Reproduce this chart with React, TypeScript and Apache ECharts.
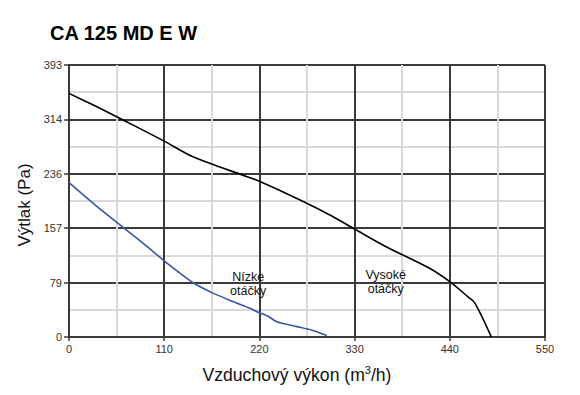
import React, { useEffect, useRef } from "react";
import * as echarts from "echarts";

const titleText = "CA 125 MD E W";
const xTicks = [0, 110, 220, 330, 440, 550];
const yMax = 393;
const yInterval = 78.6;

const highSpeed: [number, number][] = [
  [0, 352], [30, 334], [62, 314], [110, 283], [144, 260], [205, 232], [220, 225],
  [267, 198], [302, 176], [330, 156], [367, 130], [417, 99], [440, 80],
  [461, 58], [469, 49], [488, 0],
];

const lowSpeed: [number, number][] = [
  [0, 223], [30, 191], [65, 156], [90, 131], [111, 109], [144, 78], [167, 63],
  [190, 51], [209, 41.5], [220, 35], [230, 30], [240, 22], [263, 15],
  [280, 10], [298, 2],
];

const lowLabel = { text: "Nízke\notáčky", coord: [207, 77] };
const highLabel = { text: "Vysoké\notáčky", coord: [366, 79] };

export default function App() {
  const ref = useRef<HTMLDivElement>(null);
  useEffect(() => {
    if (!ref.current) return;
    const chart = echarts.init(ref.current, undefined, { renderer: "svg" });
    const font = "Liberation Sans, Arial, sans-serif";
    const dark = "#3a3a3a";
    const labelMark = (l: { text: string; coord: number[] }) => ({
      symbol: "circle",
      symbolSize: 0,
      silent: true,
      label: {
        show: true,
        position: "inside",
        formatter: l.text,
        fontFamily: font,
        fontSize: 12.5,
        lineHeight: 14,
        color: "#111",
        align: "center",
      },
      data: [{ coord: l.coord }],
    });
    chart.setOption({
      animation: false,
      backgroundColor: "#fff",
      title: {
        text: titleText,
        left: 45,
        top: 18,
        textStyle: { fontFamily: font, fontWeight: "bold", fontSize: 20, color: "#000" },
      },
      grid: { left: 69, right: 35, top: 65, bottom: 58 },
      xAxis: {
        type: "value",
        min: xTicks[0],
        max: xTicks[xTicks.length - 1],
        interval: xTicks[1] - xTicks[0],
        name: "{a|Vzduchový výkon (m}{s|3}{a|/h)}",
        nameLocation: "middle",
        nameGap: 27,
        nameTextStyle: {
          fontFamily: font,
          fontSize: 18,
          color: "#111",
          padding: [0, 20, 0, 0],
          rich: {
            a: { fontFamily: font, fontSize: 17.6, lineHeight: 22, color: "#111" },
            s: { fontFamily: font, fontSize: 11, lineHeight: 22, color: "#111", verticalAlign: "top" },
          },
        },
        axisLine: { show: true, lineStyle: { color: dark, width: 2 } },
        axisTick: { show: true, length: 4, lineStyle: { color: dark, width: 1.5 } },
        axisLabel: { fontFamily: font, fontSize: 11, color: "#333", margin: 6 },
        splitLine: { show: true, lineStyle: { color: dark, width: 2 } },
        minorTick: { show: false, splitNumber: 2 },
        minorSplitLine: { show: true, lineStyle: { color: "#d9d9d9", width: 2 } },
      },
      yAxis: {
        type: "value",
        min: 0,
        max: yMax,
        interval: yInterval,
        name: "Výtlak (Pa)",
        nameLocation: "middle",
        nameGap: 31,
        nameTextStyle: { fontFamily: font, fontSize: 17, color: "#111", padding: [0, 8, 0, 0] },
        axisLine: { show: true, lineStyle: { color: dark, width: 2 } },
        axisTick: { show: true, length: 5, lineStyle: { color: dark, width: 1.5 } },
        axisLabel: {
          fontFamily: font,
          fontSize: 11,
          color: "#333",
          margin: 7,
          formatter: (v: number) => String(Math.round(v)),
        },
        splitLine: { show: true, lineStyle: { color: dark, width: 2 } },
        minorTick: { show: false, splitNumber: 2 },
        minorSplitLine: { show: true, lineStyle: { color: "#d9d9d9", width: 2 } },
      },
      series: [
        {
          type: "line",
          data: highSpeed,
          showSymbol: false,
          smooth: 0.3,
          lineStyle: { color: "#000", width: 1.6 },
          z: 5,
          markPoint: labelMark(highLabel),
        },
        {
          type: "line",
          data: lowSpeed,
          showSymbol: false,
          smooth: 0.2,
          lineStyle: { color: "#3a56a3", width: 1.6 },
          z: 5,
          markPoint: labelMark(lowLabel),
        },
      ],
    });
    return () => chart.dispose();
  }, []);
  return <div ref={ref} style={{ width: 580, height: 395, margin: -8 }} />;
}
